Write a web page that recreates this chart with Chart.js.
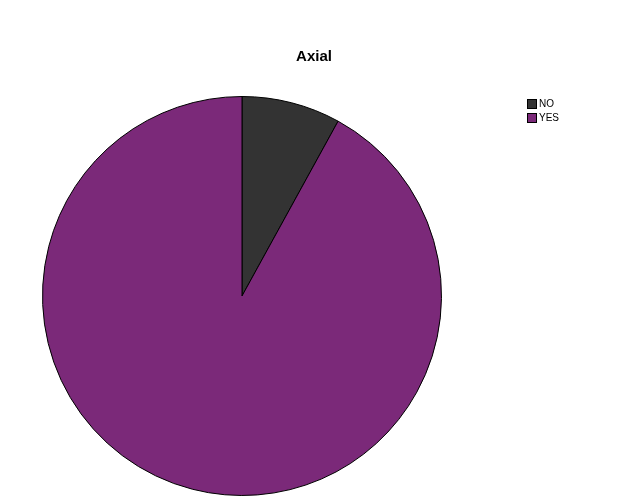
<!DOCTYPE html>
<html>
<head>
<meta charset="utf-8">
<script src="https://cdn.jsdelivr.net/npm/chart.js@4"></script>
<style>
  html, body { margin: 0; padding: 0; background: #fff; }
  #wrap { width: 629px; height: 504px; position: relative; }
</style>
</head>
<body>
<div id="wrap"><canvas id="myChart"></canvas></div>
<script>
// Datos del gráfico
const categorias = ['NO', 'YES'];
const valores = [8, 92];
const colores = ['#333333', '#7b2979'];
const titulo = 'Axial';

// Dibuja el título y la leyenda a mano, como en el original
const textoPlugin = {
    id: 'textoPlugin',
    afterDraw(chart) {
        const ctx = chart.ctx;
        ctx.save();
        ctx.fillStyle = '#000';
        ctx.font = 'bold 15px "Liberation Sans", Arial, sans-serif';
        ctx.textAlign = 'center';
        ctx.textBaseline = 'middle';
        ctx.fillText(titulo, 314, 57);

        ctx.font = '10px "Liberation Sans", Arial, sans-serif';
        ctx.textAlign = 'left';
        chart.data.labels.forEach((lab, i) => {
            const y = 99 + i * 14;
            ctx.fillStyle = chart.data.datasets[0].backgroundColor[i];
            ctx.fillRect(527.5, y + 0.5, 9, 9);
            ctx.strokeStyle = '#000';
            ctx.lineWidth = 1;
            ctx.strokeRect(527.5, y + 0.5, 9, 9);
            ctx.fillStyle = '#000';
            ctx.fillText(lab, 539, y + 5.5);
        });
        ctx.restore();
    }
};

const ctx = document.getElementById('myChart').getContext('2d');
new Chart(ctx, {
    type: 'pie',
    data: {
        labels: categorias,
        datasets: [{
            data: valores,
            backgroundColor: colores,
            borderColor: '#000',
            borderWidth: 1
        }]
    },
    options: {
        responsive: true,
        maintainAspectRatio: false,
        animation: false,
        layout: {
            padding: { left: 42, top: 96, right: 187, bottom: 8 }
        },
        plugins: {
            legend: { display: false },
            title: { display: false },
            tooltip: { enabled: false }
        }
    },
    plugins: [textoPlugin]
});
</script>
</body>
</html>
